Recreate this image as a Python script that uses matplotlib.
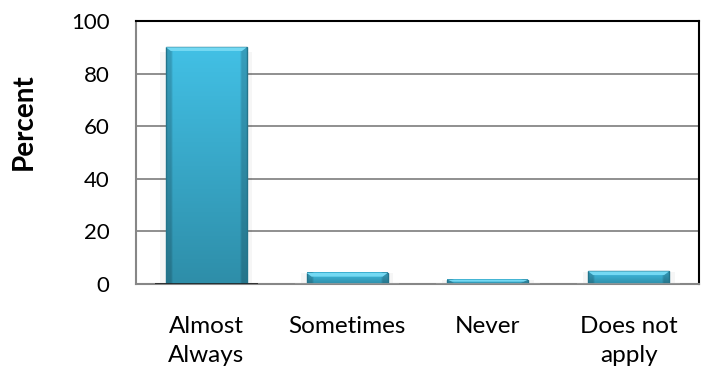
import matplotlib
matplotlib.use("Agg")
import matplotlib.pyplot as plt
from matplotlib.patches import Polygon, Rectangle
from matplotlib.colors import to_rgb
import numpy as np

categories = ["Almost\nAlways", "Sometimes", "Never", "Does not\napply"]
values = [90.0, 4.2, 1.6, 4.8]
yticks = [0, 20, 40, 60, 80, 100]

plt.rcParams['font.family'] = ['Lato', 'DejaVu Sans']

W, H = 706, 374
fig = plt.figure(figsize=(W / 100, H / 100), dpi=100)
L, R, T, B = 136, 699, 21, 284
ax = fig.add_axes([L / W, 1 - B / H, (R - L) / W, (B - T) / H])

x = np.arange(len(categories))
width = 0.575

top_c = np.array(to_rgb("#42C0E5"))
bot_c = np.array(to_rgb("#2E8EA9"))
edge_c = "#23748B"

for xi, v in zip(x, values):
    x0, x1 = xi - width / 2, xi + width / 2
    # soft shadow
    ax.add_patch(Rectangle((x0 - 0.04, 0), width + 0.08, v * 0.98,
                           facecolor="#000000", alpha=0.035, linewidth=0, zorder=2))
    # gradient body
    ny, nx = 64, 40
    t = np.linspace(0, 1, ny)[:, None, None]
    col = bot_c * (1 - t) + top_c * t
    hx = np.abs(np.linspace(-1, 1, nx))
    shade = np.where(hx > 0.88, 0.82, 1.0)[None, :, None]
    img = np.clip(col * shade, 0, 1)
    ax.imshow(img, extent=[x0, x1, 0, v], origin='lower', aspect='auto',
              interpolation='bilinear', zorder=3)
    ax.add_patch(Rectangle((x0, 0), width, v, facecolor='none', edgecolor=edge_c,
                           linewidth=1.0, zorder=4))
    # top bevel
    bh = min(1.4, v * 0.45)
    inset = 0.035
    ax.add_patch(Polygon([[x0, v], [x1, v], [x1 - inset, v - bh], [x0 + inset, v - bh]],
                         closed=True, facecolor="#74D9F3", edgecolor='none', zorder=5))
    # baseline shadow line under bar
    ax.plot([x0 - 0.08, x1 + 0.08], [0, 0], color="#222222" if v > 20 else "#9a9a9a",
            linewidth=1.2, zorder=6, solid_capstyle='butt')

ax.set_xlim(-0.5, len(categories) - 0.5)
ax.set_ylim(0, 100)
ax.set_yticks(yticks)
ax.set_xticks(x)
ax.set_xticklabels(categories, fontsize=17.5, linespacing=1.45)
ax.tick_params(axis='y', labelsize=16, length=0, pad=19)
ax.tick_params(axis='x', length=0, pad=23)
ax.yaxis.grid(True, color="#878787", linewidth=1.3, zorder=0)
ax.set_axisbelow(True)
for s in ['top', 'right']:
    ax.spines[s].set_color('black')
    ax.spines[s].set_linewidth(1.5)
for s in ['left', 'bottom']:
    ax.spines[s].set_color('#878787')
    ax.spines[s].set_linewidth(1.5)

fig.text(24 / W, 1 - 122 / H, "Percent", rotation=90, fontsize=20, fontweight='bold',
         ha='center', va='center')

fig.savefig("out.png", dpi=100)
